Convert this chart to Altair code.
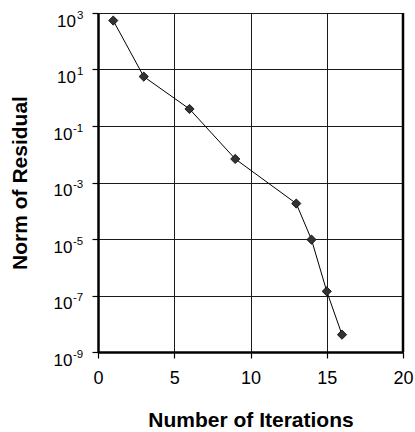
import altair as alt
import pandas as pd

# Convergence history: residual norm after each iteration
iterations = [1, 3, 6, 9, 13, 14, 15, 16]
residuals = [540, 5.6, 0.40, 0.0068, 1.8e-4, 9.5e-6, 1.4e-7, 4.1e-9]

# Axis ticks
x_ticks = [0, 5, 10, 15, 20]
y_exponents = [3, 1, -1, -3, -5, -7, -9]

FONT = "Liberation Sans"

df = pd.DataFrame({"iter": iterations, "res": residuals})
ticks = pd.DataFrame({"exp": y_exponents})
ticks["val"] = [10.0 ** e for e in y_exponents]
ticks["sup"] = [str(e) for e in y_exponents]

xscale = alt.Scale(domain=[0, 20], nice=False, zero=False)
yscale = alt.Scale(type="log", domain=[1e-9, 1e3], nice=False)

line = alt.Chart(df).mark_line(color="black", strokeWidth=1).encode(
    x=alt.X("iter:Q", scale=xscale,
            axis=alt.Axis(values=x_ticks, title="Number of Iterations",
                          grid=True, gridColor="#1a1a1a", gridWidth=1, gridOpacity=1,
                          domainColor="black", domainWidth=2.5,
                          tickColor="black", tickSize=6, tickWidth=1.2,
                          labelFont=FONT, labelFontSize=18, labelColor="black",
                          labelBaseline="alphabetic", labelPadding=25,
                          labelFlush=False,
                          titleFont=FONT, titleFontSize=21, titleFontWeight="bold",
                          titleColor="black", titleBaseline="alphabetic", titleY=74)),
    y=alt.Y("res:Q", scale=yscale,
            axis=alt.Axis(values=list(ticks["val"]), labels=False,
                          title="Norm of Residual",
                          grid=True, gridColor="#1a1a1a", gridWidth=1, gridOpacity=1,
                          domainColor="black", domainWidth=2.5,
                          tickColor="black", tickSize=6, tickWidth=1.2,
                          titleFont=FONT, titleFontSize=21, titleFontWeight="bold",
                          titleColor="black", titleBaseline="alphabetic", titleX=-72)),
)

points = alt.Chart(df).mark_point(
    shape="diamond", size=85, filled=True, fill="#333333",
    stroke="black", strokeWidth=0.8, opacity=1
).encode(
    x=alt.X("iter:Q", scale=xscale),
    y=alt.Y("res:Q", scale=yscale),
)

# Right-hand frame edge
frame = alt.Chart(pd.DataFrame({"edge": [20]})).mark_rule(
    color="black", strokeWidth=2.5
).encode(
    x=alt.X("edge:Q", scale=xscale),
    y=alt.value(0),
    y2=alt.value(339),
)

# Power-of-ten labels: base "10" plus a raised exponent
def power_labels(sign_filter, base_dx, exp_dx):
    src = alt.Chart(ticks).transform_filter(sign_filter)
    base = src.mark_text(
        text="10", align="right", baseline="alphabetic", dx=base_dx, dy=13.5,
        font=FONT, fontSize=17, color="black"
    ).encode(x=alt.datum(0), y=alt.Y("val:Q", scale=yscale))
    sup = src.mark_text(
        align="left", baseline="alphabetic", dx=exp_dx, dy=5.5,
        font=FONT, fontSize=11.5, color="black"
    ).encode(x=alt.datum(0), y=alt.Y("val:Q", scale=yscale), text="sup:N")
    return base + sup

pos_labels = power_labels("datum.exp > 0", -22, -21)
neg_labels = power_labels("datum.exp < 0", -25.5, -25)

chart = alt.layer(line, points, frame, pos_labels, neg_labels).properties(
    width=305, height=339,
    autosize=alt.AutoSizeParams(type="none"),
    padding={"left": 98, "top": 13, "right": 12, "bottom": 80},
).configure_view(stroke=None).configure(background="white")

chart.save("out.html", embed_options={"renderer": "svg", "actions": False})
